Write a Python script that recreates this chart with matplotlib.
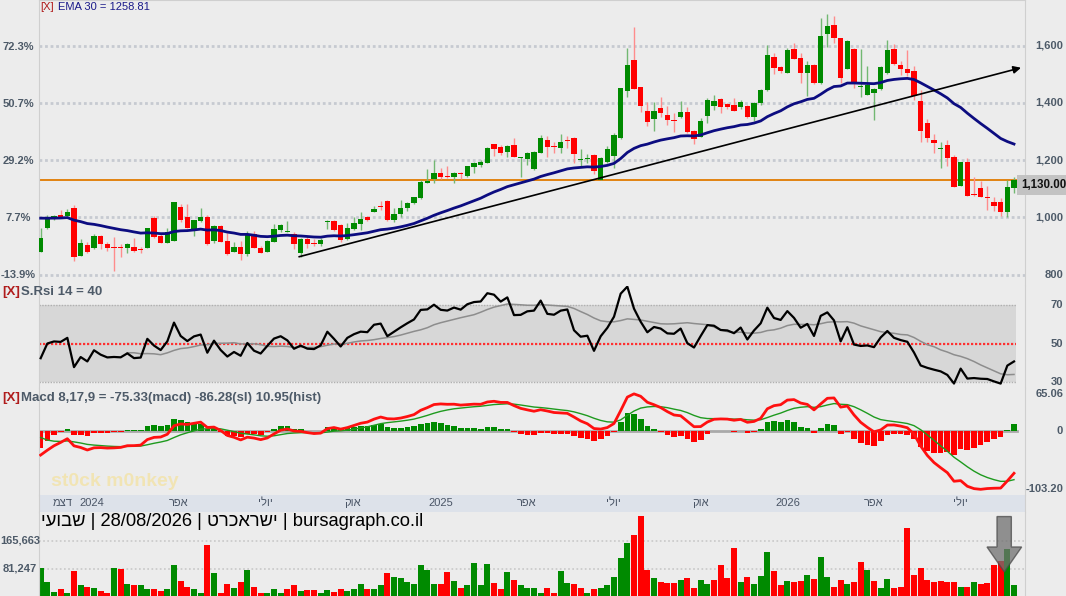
import datetime as dt
import numpy as np
import matplotlib
matplotlib.use('Agg')
import matplotlib.pyplot as plt
from matplotlib.transforms import blended_transform_factory, offset_copy
from matplotlib.patches import Polygon

plt.rcParams['font.family'] = ['Liberation Sans', 'DejaVu Sans']

# ---------------- data (weekly candles) ----------------
opens = [880, 962, 994, 1008, 1006, 1034, 866, 903, 891, 935, 907, 897, 897, 894, 897, 888, 894, 999, 936, 911,
         918, 1035, 1001, 958, 987, 1001, 917, 970, 917, 879, 896, 872, 941, 894, 879, 915, 956, 950, 941, 876,
         924, 909, 907, 985, 987, 973, 923, 959, 978, 1001, 1020, 1039, 1057, 990, 1010, 1034, 1049, 1066, 1121, 1133,
         1154, 1143, 1142, 1155, 1144, 1177, 1183, 1191, 1256, 1247, 1229, 1253, 1206, 1204, 1168, 1226, 1270, 1249, 1243, 1270,
         1278, 1200, 1203, 1218, 1130, 1194, 1215, 1276, 1443, 1550, 1455, 1372, 1344, 1383, 1358, 1341, 1350, 1369, 1302, 1282,
         1354, 1389, 1414, 1396, 1393, 1385, 1389, 1352, 1401, 1445, 1562, 1527, 1506, 1589, 1558, 1506, 1533, 1469, 1640, 1672,
         1626, 1520, 1589, 1456, 1428, 1436, 1448, 1504, 1590, 1533, 1518, 1512, 1407, 1331, 1270, 1238, 1253, 1210, 1110, 1192,
         1081, 1103, 1072, 1052, 1052, 1019, 1103]
highs = [962, 1008, 1008, 1025, 1029, 1043, 924, 912, 942, 937, 915, 931, 905, 911, 926, 896, 963, 1004, 944, 962,
         1055, 1046, 1046, 992, 1031, 1008, 973, 972, 944, 912, 917, 952, 952, 900, 919, 976, 976, 987, 950, 926,
         935, 923, 926, 990, 989, 975, 979, 1002, 1017, 1004, 1039, 1058, 1059, 1031, 1060, 1053, 1072, 1131, 1168, 1200,
         1171, 1179, 1158, 1157, 1181, 1193, 1200, 1245, 1258, 1253, 1253, 1276, 1212, 1228, 1231, 1288, 1284, 1264, 1290, 1285,
         1280, 1239, 1220, 1220, 1210, 1249, 1294, 1453, 1591, 1667, 1457, 1404, 1404, 1422, 1389, 1364, 1407, 1385, 1304, 1349,
         1416, 1428, 1418, 1399, 1416, 1410, 1391, 1403, 1447, 1602, 1576, 1529, 1593, 1610, 1576, 1547, 1535, 1698, 1710, 1704,
         1628, 1619, 1591, 1589, 1529, 1451, 1529, 1620, 1606, 1545, 1585, 1529, 1445, 1345, 1290, 1263, 1270, 1218, 1194, 1206,
         1141, 1127, 1109, 1071, 1066, 1130, 1142]
lows = [878, 960, 992, 997, 1004, 848, 864, 874, 889, 888, 882, 812, 860, 876, 880, 876, 892, 926, 909, 909,
        916, 985, 962, 936, 985, 904, 909, 913, 868, 877, 851, 866, 892, 874, 877, 913, 950, 947, 889, 862,
        894, 900, 901, 959, 953, 915, 921, 956, 956, 988, 1017, 1025, 988, 985, 1002, 1023, 1047, 1063, 1119, 1121,
        1133, 1138, 1119, 1134, 1142, 1156, 1177, 1189, 1215, 1218, 1212, 1210, 1140, 1183, 1165, 1224, 1212, 1224, 1224, 1241,
        1191, 1180, 1189, 1151, 1130, 1189, 1171, 1274, 1422, 1447, 1369, 1319, 1303, 1352, 1323, 1299, 1348, 1294, 1256, 1280,
        1329, 1375, 1364, 1378, 1371, 1378, 1346, 1337, 1393, 1443, 1500, 1504, 1504, 1552, 1471, 1424, 1466, 1467, 1597, 1610,
        1469, 1518, 1453, 1420, 1426, 1340, 1446, 1500, 1533, 1498, 1494, 1410, 1264, 1263, 1226, 1171, 1180, 1107, 1108, 1075,
        1076, 1070, 1025, 1023, 1005, 1002, 1084]
closes = [928.8, 994, 1004, 1002, 1020, 862, 909, 880, 935, 908, 891, 893, 891, 907, 883, 885, 962, 932, 911, 949,
          1052, 990, 964, 990, 1000, 905, 971, 915, 872, 896, 872, 941, 894, 876, 917, 959, 973, 952, 907, 923,
          907, 905, 921, 987, 956, 920, 962, 981, 994, 992, 1029, 1035, 990, 1010, 1031, 1051, 1070, 1124, 1127, 1156,
          1142, 1140, 1156, 1151, 1179, 1191, 1194, 1243, 1240, 1226, 1249, 1210, 1211, 1226, 1229, 1276, 1247, 1245, 1262, 1267,
          1220, 1203, 1206, 1163, 1208, 1239, 1288, 1451, 1533, 1449, 1389, 1334, 1372, 1364, 1340, 1338, 1369, 1297, 1273, 1337,
          1410, 1407, 1387, 1385, 1373, 1404, 1352, 1401, 1445, 1568, 1521, 1512, 1585, 1554, 1506, 1533, 1471, 1634, 1670, 1626,
          1488, 1617, 1472, 1459, 1463, 1449, 1527, 1585, 1535, 1518, 1506, 1424, 1303, 1278, 1259, 1242, 1206, 1107, 1192, 1075,
          1078, 1070, 1067, 1041, 1017, 1107, 1130]
volumes = [84200, 40100, 12300, 19500, 9200, 74000, 31800, 27700, 24600, 13400, 9200, 83200, 81100, 34900, 31800, 31800, 21600, 21600, 13400, 19500,
           93500, 43100, 27700, 19500, 9200, 151000, 67800, 9200, 34900, 24600, 40100, 78000, 27700, 9200, 9200, 21600, 9200, 19500, 31800, 13400,
           16400, 16400, 9200, 17500, 12300, 19500, 13400, 19500, 34900, 19500, 19500, 31800, 68800, 55500, 52400, 40100, 34900, 91400, 78000, 34900,
           34900, 72900, 43100, 24600, 31800, 99600, 31800, 94500, 38000, 19500, 72900, 47200, 31800, 22600, 22600, 7200, 22600, 7200, 75000, 38000,
           34900, 24600, 9200, 19500, 24600, 31800, 55500, 112000, 158000, 180800, 240000, 78000, 52400, 40100, 38000, 38000, 47200, 52400, 24600, 47200,
           34900, 47200, 93500, 52400, 142800, 40100, 55500, 34900, 58500, 130400, 74000, 31800, 43100, 40100, 43100, 62600, 50300, 115000, 55500, 27700,
           47200, 34900, 40100, 101700, 78000, 43100, 24600, 50300, 24600, 27700, 204400, 62600, 84200, 47200, 40100, 43100, 40100, 40100, 27700, 27700,
           40100, 34900, 38000, 93500, 104800, 140700, 31800]

# indicator starting values
EMA30_START = 997.0
MACD_FAST_START, MACD_SLOW_START, MACD_SIGNAL_START = 960.0, 1003.0, -12.0
RSI_GAIN_START, RSI_LOSS_START = 13.9, 18.9

# labels shown on the chart
ema_label = "EMA 30 = 1258.81"
rsi_label = "S.Rsi 14 = 40"
macd_label = "Macd 8,17,9 = -75.33(macd) -86.28(sl) 10.95(hist)"
price_levels = [800, 1000, 1200, 1400, 1600]
rsi_levels = [30, 50, 70]
macd_tick_vals = [-103.20, 0, 65.06]
macd_tick_text = ["-103.20", "0", "65.06"]
vol_tick_vals = [81247, 165663]
first_candle_date = dt.date(2023, 11, 8)
month_ticks = [(dt.date(2023, 12, 1), "דצמ"), (dt.date(2024, 1, 1), "2024"), (dt.date(2024, 4, 1), "אפר"),
               (dt.date(2024, 7, 1), "יולי"), (dt.date(2024, 10, 1), "אוק"), (dt.date(2025, 1, 1), "2025"),
               (dt.date(2025, 4, 1), "אפר"), (dt.date(2025, 7, 1), "יולי"), (dt.date(2025, 10, 1), "אוק"),
               (dt.date(2026, 1, 1), "2026"), (dt.date(2026, 4, 1), "אפר"), (dt.date(2026, 7, 1), "יולי")]
footer_parts = ["שבועי", "28/08/2026", "ישראכרט", "bursagraph.co.il"]
trend_x = [38.75, 147.05]
trend_y = [862, 1523]

# ---------------- helpers ----------------
def vis(s):
    # visual order for right-to-left Hebrew words (no bidi engine in matplotlib)
    if any('\u0590' <= ch <= '\u05ff' for ch in s):
        return s[::-1]
    return s

def ema_from(x, n, start):
    a = 2.0 / (n + 1)
    out = np.empty(len(x))
    out[0] = start
    for k in range(1, len(x)):
        out[k] = out[k - 1] + a * (x[k] - out[k - 1])
    return out

o = np.array(opens, float); h = np.array(highs, float)
l = np.array(lows, float); c = np.array(closes, float)
v = np.array(volumes, float)
n = len(c)
idx = np.arange(n)

ema30 = ema_from(c, 30, EMA30_START)
ag, al = RSI_GAIN_START, RSI_LOSS_START
rsi = [100 * ag / (ag + al)]
for ch in np.diff(c):
    ag = (ag * 13 + max(ch, 0)) / 14
    al = (al * 13 + max(-ch, 0)) / 14
    rsi.append(100 * ag / (ag + al))
rsi = np.array(rsi)
rsi_sig = np.full(n, np.nan)
for k in range(13, n):
    rsi_sig[k] = rsi[k - 13:k + 1].mean()
macd = ema_from(c, 8, MACD_FAST_START) - ema_from(c, 17, MACD_SLOW_START)
sig = np.empty(n); sig[0] = MACD_SIGNAL_START
for k in range(1, n):
    sig[k] = sig[k - 1] + 0.2 * (macd[k] - sig[k - 1])
hist = macd - sig

# ---------------- figure ----------------
W, H = 1066, 596
BG = '#ececec'
LBL = '#4d5a68'
GREEN, RED = '#008a00', '#ff0000'
fig = plt.figure(figsize=(W / 100, H / 100), dpi=100, facecolor=BG)
XL, XR = 39, 1025
XLIM = (-0.25, 147.65)

def add_ax(top, bottom, x0=XL, x1=XR):
    ax = fig.add_axes([x0 / W, 1 - bottom / H, (x1 - x0) / W, (bottom - top) / H])
    ax.set_facecolor(BG)
    ax.set_xlim(*XLIM)
    ax.set_xticks([]); ax.set_yticks([])
    for s in ax.spines.values():
        s.set_visible(False)
    for s in ('left', 'right'):
        ax.spines[s].set_visible(True)
        ax.spines[s].set_color('#cfcfcf')
    return ax

def ylab(ax, xpx, y, text, ha, **kw):
    tr = blended_transform_factory(fig.transFigure, ax.transData)
    ax.text(xpx / W, y, text, transform=tr, ha=ha, va='center', clip_on=False, **kw)

# ---- price panel ----
axp = add_ax(0, 285)
axp.spines['top'].set_visible(True); axp.spines['top'].set_color('#cfcfcf')
axp.set_ylim(763.3, 1759.9)
for lv in price_levels:
    axp.axhline(lv, color='#c6cad1', lw=2, ls=(0, (1, 1)), zorder=0)
    ylab(axp, 1063, lv, f"{lv:,}", 'right', fontsize=8, color=LBL, fontweight='bold')
    ylab(axp, 18.5, lv - 3, f"{(lv / c[0] - 1) * 100:.1f}%", 'center', fontsize=8, color=LBL, fontweight='bold')
up = c >= o
wick_col = np.where(up, '#72b872', '#ff8c8c')
axp.vlines(idx, l, h, colors=wick_col, lw=1, zorder=2)
body_b = np.minimum(o, c)
body_h = np.maximum(np.abs(c - o), 3.0)
axp.bar(idx, body_h, bottom=body_b, width=0.8, color=np.where(up, GREEN, RED), zorder=3, linewidth=0)
axp.plot(idx, ema30, color='#0c0c80', lw=2, zorder=4)
axp.axhline(c[-1], color='#e07a00', lw=1.3, zorder=1)
axp.annotate('', xy=(trend_x[1], trend_y[1]), xytext=(trend_x[0], trend_y[0]),
             arrowprops=dict(arrowstyle='-|>', color='black', lw=1.2, mutation_scale=11,
                             shrinkA=0, shrinkB=0), zorder=5)
tr_last = offset_copy(blended_transform_factory(fig.transFigure, axp.transData), fig=fig, y=-5, units='dots')
axp.text(1066 / W, c[-1], f"{c[-1]:,.2f}", transform=tr_last, ha='right', va='center', fontsize=8.3,
         fontweight='bold', color='#111111', clip_on=False,
         bbox=dict(boxstyle='square,pad=0.35', fc='#c3c3c3', ec='none'))
fig.text(40.5 / W, 1 - 6.7 / H, "[X]", color='#b01c1c', fontsize=8, va='center', ha='left')
fig.text(57.5 / W, 1 - 6.7 / H, ema_label, color='#1a1a8a', fontsize=8, va='center', ha='left')

# ---- RSI panel ----
axr = add_ax(286, 388)
axr.set_ylim(26.9, 79.9)
axr.fill_between([XLIM[0], n - 0.7], 30, 70, color='#d7d7d7', zorder=0, lw=0)
for lv in (30, 70):
    axr.plot([XLIM[0], n - 0.7], [lv, lv], color='#b0b0b0', lw=1, ls=(0, (1, 1)), zorder=1)
axr.plot([XLIM[0], n - 0.7], [50, 50], color='#ff3030', lw=1.6, ls=(0, (1, 0.8)), zorder=1)
axr.plot(idx, rsi_sig, color='#8d8d8d', lw=1.1, zorder=2)
axr.plot(idx, rsi, color='black', lw=1.6, zorder=3)
for lv in rsi_levels:
    ylab(axr, 1063, lv, str(lv), 'right', fontsize=8, color=LBL, fontweight='bold')
fig.text(2 / W, 1 - 292 / H, "[X]", color='#b01c1c', fontsize=9.5, fontweight='bold', va='center')
fig.text(21 / W, 1 - 292 / H, rsi_label, color=LBL, fontsize=9.5, fontweight='bold', va='center')

# ---- MACD panel ----
axm = add_ax(388, 495)
axm.set_ylim(-113.8, 75.7)
axm.plot([XLIM[0], n - 0.5], [0, 0], color='#a9a9a9', lw=2, zorder=1)
axm.bar(idx, hist, width=0.85, color=np.where(hist >= 0, GREEN, RED), zorder=2, linewidth=0)
axm.plot(idx, sig, color='#1e9a1e', lw=1, zorder=3)
axm.plot(idx, macd, color='#ff1010', lw=2, zorder=4)
for val, txt in zip(macd_tick_vals, macd_tick_text):
    ylab(axm, 1063, val, txt, 'right', fontsize=8, color=LBL, fontweight='bold')
fig.text(2 / W, 1 - 398 / H, "[X]", color='#b01c1c', fontsize=9.5, fontweight='bold', va='center')
fig.text(21 / W, 1 - 398 / H, macd_label, color=LBL, fontsize=9.5, fontweight='bold', va='center')
fig.text(51 / W, 1 - 481 / H, "st0ck m0nkey", color='#f3e3a6', fontsize=14, fontweight='bold',
         va='center', alpha=0.8)

# ---- date strip ----
axs = add_ax(495, 511.5)
axs.set_facecolor('#dde2ea')
axs.set_ylim(0, 1)
for d, txt in month_ticks:
    xi = (d - first_candle_date).days / 7.0
    axs.text(xi, 0.5, vis(txt), ha='center', va='center', fontsize=8, color='#4a5566')

# ---- volume panel ----
axv = add_ax(511.5, 596)
axv.set_ylim(-300, 252500)
for lv in vol_tick_vals:
    axv.axhline(lv, color='#c8c8c8', lw=1.2, ls=(0, (1, 1.5)), zorder=0)
    ylab(axv, 20, lv, f"{lv:,}", 'center', fontsize=8, color=LBL, fontweight='bold')
vup = np.concatenate([[True], c[1:] >= c[:-1]])
axv.bar(idx, v, width=0.88, color=np.where(vup, GREEN, RED), zorder=2, linewidth=0)
footer = (vis(footer_parts[0]) + " | " + footer_parts[1] + " | " + vis(footer_parts[2]) +
          " | " + footer_parts[3])
fig.text(41 / W, 1 - 521 / H, footer, fontsize=13.2, color='black', va='center', ha='left')
# grey down arrow marker near the latest bars
tra = blended_transform_factory(axv.transData, axv.transAxes)
xa = n - 1 - 1.45
arrow = Polygon([[xa - 1.1, 0.94], [xa + 1.05, 0.94], [xa + 1.05, 0.58], [xa + 2.6, 0.58],
                 [xa, 0.285], [xa - 2.6, 0.58], [xa - 1.1, 0.58]], closed=True, transform=tra,
                facecolor='#707070', edgecolor='#4a4a4a', lw=1, alpha=0.75, zorder=5)
axv.add_patch(arrow)

fig.savefig('out.png', dpi=100, facecolor=BG)
